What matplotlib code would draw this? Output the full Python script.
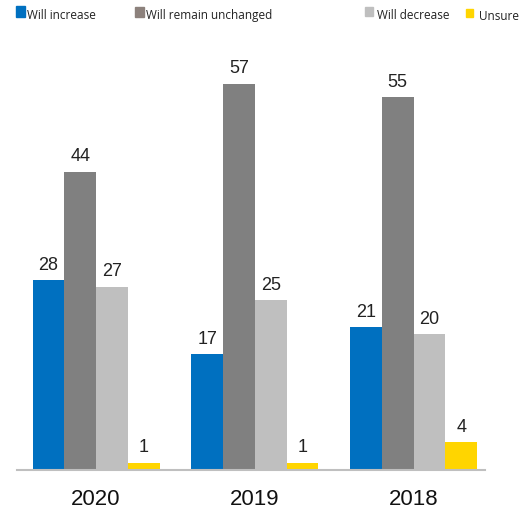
import matplotlib
matplotlib.use("Agg")
import matplotlib.pyplot as plt
import numpy as np
from matplotlib.patches import Rectangle

years = ["2020", "2019", "2018"]
series_names = ["Will increase", "Will remain unchanged", "Will decrease", "Unsure"]
will_increase = [28, 17, 21]
will_remain = [44, 57, 55]
will_decrease = [27, 25, 20]
unsure = [1, 1, 4]

series = [will_increase, will_remain, will_decrease, unsure]
colors = ["#0070C0", "#808080", "#BFBFBF", "#FFD500"]
legend_colors = ["#0070C0", "#8C817C", "#BFBFBF", "#FFD500"]

W, H = 532, 510
fig = plt.figure(figsize=(W / 100, H / 100), dpi=100)
ax = fig.add_axes([17 / W, (H - 470.5) / H, (485 - 17) / W, 406 / H])

x = np.arange(len(years))
bw = 0.2
offsets = [-0.3, -0.1, 0.1, 0.3]
for vals, off, c in zip(series, offsets, colors):
    bars = ax.bar(x + off, vals, width=bw, color=c, edgecolor="none", zorder=2)
    for b, v in zip(bars, vals):
        ax.annotate(str(v), (b.get_x() + b.get_width() / 2, v),
                    xytext=(0, 8.2), textcoords="offset points",
                    ha="center", va="baseline", fontsize=13,
                    family="Liberation Sans", color="#222222")

ax.set_xlim(-0.498, 2.45)
ax.set_ylim(0, 60)
for s in ["top", "right", "left"]:
    ax.spines[s].set_visible(False)
ax.spines["bottom"].set_color("#BFBFBF")
ax.spines["bottom"].set_linewidth(1.5)
ax.set_yticks([])
ax.set_xticks(x)
ax.set_xticklabels([])
ax.tick_params(axis="x", length=0)
for xi, yr in zip(x, years):
    ax.annotate(yr, (xi, 0), xycoords=("data", "axes fraction"),
                xytext=(0, -34.5 * 0.72), textcoords="offset points",
                ha="center", va="baseline", fontsize=16,
                family="Liberation Sans", color="#111111")

# legend drawn manually: (square left, square right, square top, square bottom, text x, text baseline)
leg_items = [(16, 25, 7, 18, 27, 19), (135, 144, 8, 18, 146, 19),
             (365, 373, 8, 17, 377, 19), (466, 473, 10, 18, 479, 20)]
for (sl, sr, st, sb, tx, tb), name, c in zip(leg_items, series_names, legend_colors):
    fig.patches.append(Rectangle((sl / W, (H - sb) / H), (sr - sl) / W, (sb - st) / H,
                                 transform=fig.transFigure, color=c))
    fig.text(tx / W, (H - tb) / H, name, fontsize=8.5, family="Open Sans",
             va="baseline", ha="left", color="#222222")

fig.savefig("out.png", dpi=100)
